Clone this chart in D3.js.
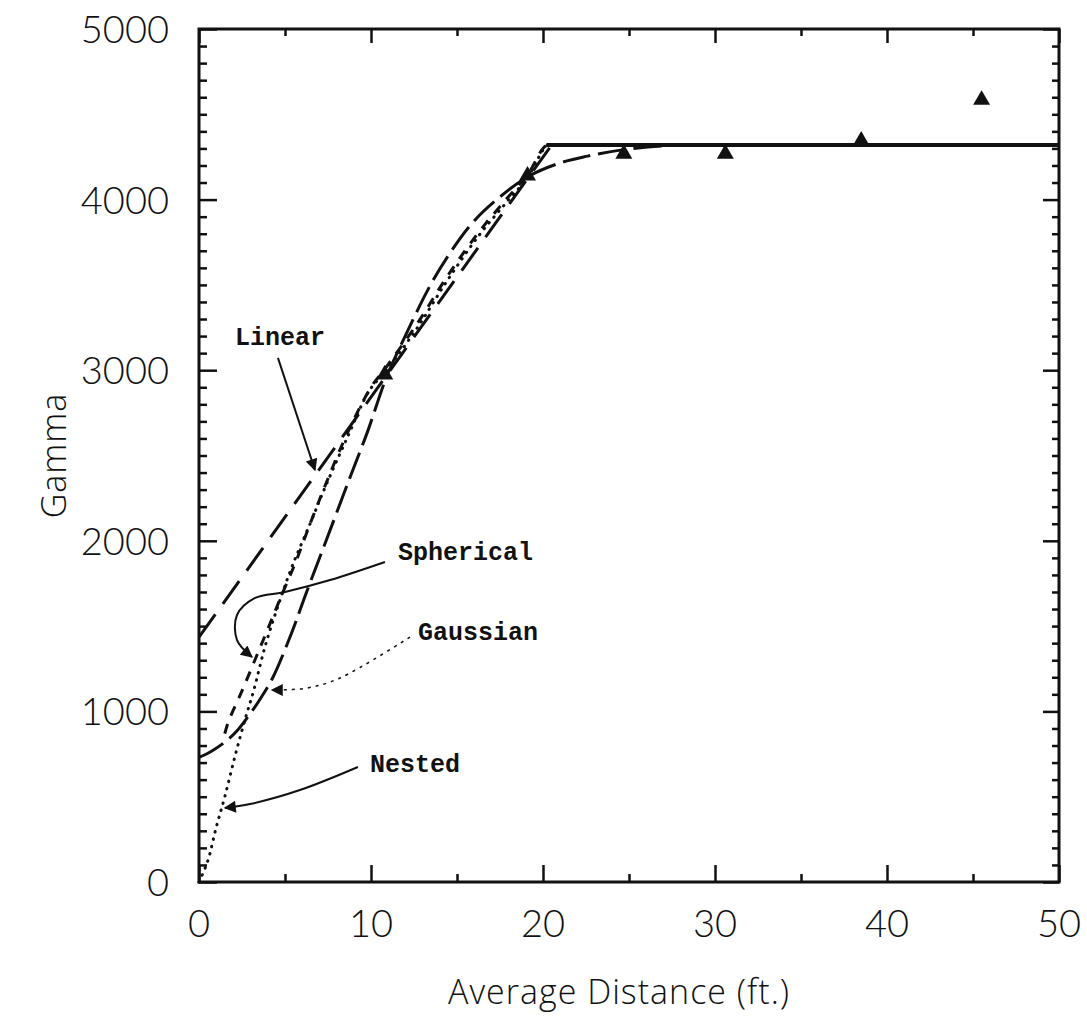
<!DOCTYPE html>
<html lang="en">
<head>
  <meta charset="UTF-8">
  <title>Variogram models</title>
  <script src="https://d3js.org/d3.v7.min.js"></script>
  <style>
    body { margin: 0; background: #fff; }
    .tick-label { font-family: Lato, "Liberation Sans", sans-serif; font-weight: 300; font-size: 38px; fill: #111; }
    .axis-title { font-family: "Open Sans", Lato, sans-serif; font-weight: 300; font-size: 34px; letter-spacing: 1px; fill: #111; }
    .note { font-family: "Liberation Mono", "DejaVu Sans Mono", monospace; font-weight: bold; font-size: 25px; fill: #111; }
  </style>
</head>
<body>
<div class="main"></div>
<script>
  // observed variogram points
  var distances = [10.8, 19.1, 24.7, 30.6, 38.5, 45.5];
  var gammaObs = [2974, 4140, 4268, 4268, 4344, 4584];

  // fitted models as [distance, gamma]
  var linearModel = [[0, 1435], [20.5, 4320], [50, 4320]];
  var sphericalModel = [[1.5, 870], [1.7, 937], [2.5, 1120], [3.3, 1313], [4.07, 1500], [4.8, 1680], [5.6, 1870],
    [6.5, 2110], [7.4, 2340], [8.6, 2625], [10, 2900], [10.9, 3020], [12.7, 3275], [14.4, 3545], [16.2, 3800],
    [17.8, 3995], [19.1, 4145], [20, 4300], [20.3, 4320], [21, 4320], [50, 4320]];
  var gaussianModel = [[0, 730], [0.7, 765], [1.5, 820], [2.2, 885], [3.0, 990], [3.66, 1089], [4.3, 1200],
    [5.4, 1464], [6.16, 1674], [7.2, 1950], [8.8, 2377], [9.8, 2640], [10.9, 2960], [11.7, 3138], [13.4, 3489],
    [14.6, 3688], [15.9, 3864], [17.3, 3999], [19.1, 4133], [21, 4215], [22.6, 4255], [24.5, 4290], [27, 4315],
    [29, 4320], [50, 4320]];
  var nestedModel = [[0, 0], [0.5, 120], [1.0, 320], [1.5, 500], [2.1, 740], [2.7, 960], [3.2, 1130], [3.84, 1380],
    [4.6, 1620], [5.4, 1847], [6.5, 2110], [7.4, 2330], [8.6, 2600], [9.9, 2880], [10.9, 3000], [12.7, 3250],
    [14.4, 3520], [16.2, 3780], [17.8, 3975], [19.1, 4130], [20, 4290], [20.3, 4320], [21, 4320], [50, 4320]];
  var sill = [[20.2, 4320], [50, 4320]];

  var xTicks = [0, 10, 20, 30, 40, 50];
  var yTicks = [0, 1000, 2000, 3000, 4000, 5000];

  // labels with their arrows, in data units
  var notes = [
    {text: "Linear", at: [2.09, 3148], arrow: [[4.59, 3072], [6.74, 2415]], dotted: false},
    {text: "Spherical", at: [11.57, 1887], arrow: [[10.81, 1876], [7.62, 1770], [5.0, 1700], [3.26, 1665], [2.21, 1565], [2.21, 1418], [3.08, 1319]], dotted: false},
    {text: "Gaussian", at: [12.73, 1419], arrow: [[12.27, 1436], [8.2, 1196], [6.28, 1137], [4.24, 1125]], dotted: true},
    {text: "Nested", at: [9.94, 645], arrow: [[9.24, 674], [5.87, 539], [2.97, 457], [1.51, 434]], dotted: false}
  ];

  var width = 1087, height = 1018;
  var margin = {left: 199, top: 29, right: 28, bottom: 136};

  var svg = d3.select(".main").append("svg")
    .attr("width", width)
    .attr("height", height);

  var xScale = d3.scaleLinear().domain([0, 50]).range([margin.left, width - margin.right]);
  var yScale = d3.scaleLinear().domain([0, 5000]).range([height - margin.bottom, margin.top]);

  var x0 = xScale(0), x1 = xScale(50), y0 = yScale(0), y1 = yScale(5000);

  // ticks on all four sides, pointing inward
  function tickAxis(axis, translate) {
    var g = svg.append("g").attr("transform", translate).call(axis);
    g.select(".domain").remove();
    g.selectAll("line").attr("stroke", "#111").attr("stroke-width", 2.5);
    g.selectAll("text").remove();
    return g;
  }
  var xMinor = d3.range(5, 50, 10), yMinor = d3.range(0, 5001, 100).filter(function (d) { return d % 1000 != 0; });

  tickAxis(d3.axisTop(xScale).tickValues(xTicks).tickSize(17), `translate(0,${y0})`);
  tickAxis(d3.axisTop(xScale).tickValues(xMinor).tickSize(8), `translate(0,${y0})`);
  tickAxis(d3.axisBottom(xScale).tickValues(xTicks).tickSize(14), `translate(0,${y1})`);
  tickAxis(d3.axisBottom(xScale).tickValues(xMinor).tickSize(7), `translate(0,${y1})`);
  tickAxis(d3.axisRight(yScale).tickValues(yTicks).tickSize(18), `translate(${x0},0)`);
  tickAxis(d3.axisRight(yScale).tickValues(yMinor).tickSize(8), `translate(${x0},0)`);
  tickAxis(d3.axisLeft(yScale).tickValues(yTicks).tickSize(16), `translate(${x1},0)`);
  tickAxis(d3.axisLeft(yScale).tickValues(yMinor).tickSize(7), `translate(${x1},0)`);

  // frame
  svg.append("rect")
    .attr("x", x0).attr("y", y1)
    .attr("width", x1 - x0).attr("height", y0 - y1)
    .attr("fill", "none").attr("stroke", "#111").attr("stroke-width", 3);

  // tick labels
  svg.selectAll(".xlab").data(xTicks).join("text")
    .attr("class", "tick-label xlab")
    .attr("x", function (d) { return xScale(d); })
    .attr("y", y0 + 55)
    .attr("text-anchor", "middle")
    .text(function (d) { return d; });

  svg.selectAll(".ylab").data(yTicks).join("text")
    .attr("class", "tick-label ylab")
    .attr("x", x0 - 30)
    .attr("y", function (d) { return yScale(d) + 14; })
    .attr("text-anchor", "end")
    .text(function (d) { return d; });

  svg.append("text").attr("class", "axis-title")
    .attr("x", (x0 + x1) / 2 - 10).attr("y", 1004)
    .attr("text-anchor", "middle")
    .text("Average Distance (ft.)");

  svg.append("text").attr("class", "axis-title")
    .attr("transform", `translate(66,${(y0 + y1) / 2}) rotate(-90)`)
    .attr("text-anchor", "middle")
    .text("Gamma");

  // model curves
  var line = d3.line()
    .x(function (d) { return xScale(d[0]); })
    .y(function (d) { return yScale(d[1]); });

  var models = [
    {data: linearModel, dash: "28,13", cap: "butt", curve: d3.curveLinear},
    {data: gaussianModel, dash: "28,8", cap: "butt", curve: d3.curveCatmullRom.alpha(0.5)},
    {data: sphericalModel, dash: "10,9", cap: "butt", curve: d3.curveCatmullRom.alpha(0.5)},
    {data: nestedModel, dash: "0.5,7", cap: "round", curve: d3.curveCatmullRom.alpha(0.5)}
  ];

  svg.selectAll(".model").data(models).join("path")
    .attr("class", "model")
    .attr("d", function (d) { return line.curve(d.curve)(d.data); })
    .attr("fill", "none")
    .attr("stroke", "#111")
    .attr("stroke-width", 3)
    .attr("stroke-linecap", function (d) { return d.cap; })
    .attr("stroke-dasharray", function (d) { return d.dash; });

  svg.append("path")
    .attr("d", line.curve(d3.curveLinear)(sill))
    .attr("fill", "none").attr("stroke", "#111").attr("stroke-width", 4);

  // observed points
  svg.selectAll(".obs").data(distances).join("path")
    .attr("class", "obs")
    .attr("transform", function (d, i) { return `translate(${xScale(d)},${yScale(gammaObs[i])})`; })
    .attr("d", d3.symbol().type(d3.symbolTriangle).size(125))
    .attr("fill", "#111");

  // arrowhead
  svg.append("defs").append("marker")
    .attr("id", "head")
    .attr("viewBox", "0 0 10 10")
    .attr("refX", 9).attr("refY", 5)
    .attr("markerUnits", "userSpaceOnUse")
    .attr("markerWidth", 18).attr("markerHeight", 12)
    .attr("orient", "auto")
    .append("path").attr("d", "M0,0 L10,5 L0,10 Z").attr("fill", "#111");

  var arrowLine = d3.line()
    .x(function (d) { return xScale(d[0]); })
    .y(function (d) { return yScale(d[1]); })
    .curve(d3.curveCatmullRom);

  svg.selectAll(".arrow").data(notes).join("path")
    .attr("class", "arrow")
    .attr("d", function (d) { return arrowLine(d.arrow); })
    .attr("fill", "none")
    .attr("stroke", "#111")
    .attr("stroke-width", function (d) { return d.dotted ? 1.5 : 2; })
    .attr("stroke-dasharray", function (d) { return d.dotted ? "3,5" : null; })
    .attr("marker-end", "url(#head)");

  svg.selectAll(".note").data(notes).join("text")
    .attr("class", "note")
    .attr("x", function (d) { return xScale(d.at[0]); })
    .attr("y", function (d) { return yScale(d.at[1]); })
    .text(function (d) { return d.text; });
</script>
</body>
</html>
